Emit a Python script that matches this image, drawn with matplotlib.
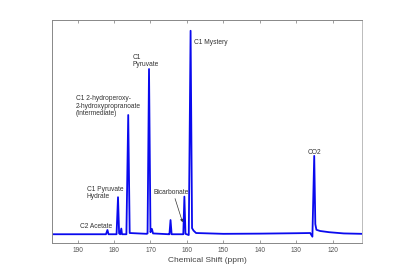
import matplotlib
matplotlib.use("Agg")
import matplotlib.pyplot as plt

plt.rcParams['font.family'] = ['Liberation Sans', 'DejaVu Sans']

# spectrum trace (ppm, normalised intensity)
ppm = [197.0, 190.0, 182.2, 181.8, 181.5, 179.3, 178.9, 178.6, 178.3, 178.0, 177.8,
       176.6, 176.1, 175.7, 171.0, 170.8, 170.4, 170.0, 169.6, 169.3, 165.0,
       164.8, 164.5, 164.2, 161.0, 160.7, 160.4, 159.5, 159.0, 158.6, 158.2,
       157.5, 150.0, 140.0, 130.0, 126.2, 125.6, 125.1, 124.8, 124.5, 123.5,
       121.0, 117.0, 112.0]
intensity = [0.0, 0.0, 0.0, 0.021, 0.0, 0.0, 0.182, 0.004, 0.0, 0.028, 0.0,
             0.0, 0.586, 0.006, 0.002, 0.004, 0.812, 0.01, 0.026, 0.004, 0.0,
             0.0, 0.07, 0.0, 0.0, 0.185, 0.002, -0.004, 1.0, 0.03, 0.018,
             0.006, 0.002, 0.003, 0.005, 0.006, -0.012, 0.385, 0.05, 0.022, 0.016,
             0.01, 0.004, 0.002]

labels = ["C1 Mystery", "C1\nPyruvate",
          "C1 2-hydroperoxy-\n2-hydroxypropranoate\n(Intermediate)",
          "C1 Pyruvate\nHydrate", "C2 Acetate", "CO2"]
label_x = [158.1, 174.9, 190.4, 187.5, 189.3, 125.1]
label_y = [0.94, 0.85, 0.63, 0.202, 0.039, 0.404]
label_ha = ["left", "left", "left", "left", "left", "center"]

fig = plt.figure(figsize=(4, 2.75), dpi=100)
ax = fig.add_axes([0.13, 0.1164, 0.775, 0.8109])
ax.plot(ppm, intensity, color='#0a0aee', linewidth=1.3)

for t, x, y, ha in zip(labels, label_x, label_y, label_ha):
    ax.text(x, y, t, ha=ha, va='center', fontsize=4.8, color='#333333', linespacing=1.05)

ax.annotate("Bicarbonate", xy=(161.2, 0.059), xytext=(169.3, 0.206),
            fontsize=4.8, color='#333333', ha='left', va='center',
            arrowprops=dict(arrowstyle='-|>', color='#333333', lw=0.5,
                            mutation_scale=4, shrinkA=0, shrinkB=0,
                            relpos=(0.6, 0.0)))

ax.set_xlim(197, 112)
ax.set_ylim(-0.043, 1.053)
ax.set_xticks([190, 180, 170, 160, 150, 140, 130, 120])
ax.set_yticks([])
ax.tick_params(axis='x', direction='in', top=True, length=2, width=0.5,
               labelsize=4.8, colors='#777777', labelcolor='#555555', pad=3)
for s in ax.spines.values():
    s.set_color('#888888')
    s.set_linewidth(0.7)
ax.spines['right'].set_color('#bbbbbb')
ax.set_xlabel("Chemical Shift (ppm)", fontsize=6, color='#444444', labelpad=2)

fig.savefig("out.png", dpi=100)
